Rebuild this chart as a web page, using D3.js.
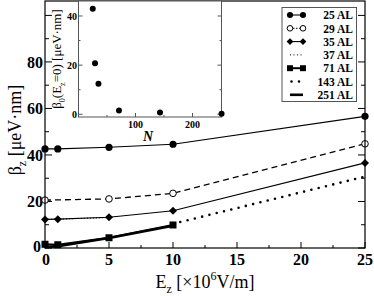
<!DOCTYPE html>
<html><head><meta charset="utf-8">
<script src="https://cdn.jsdelivr.net/npm/d3@7"></script>
<style>body{margin:0;background:#fff}svg{display:block}</style>
</head><body><svg id="c" width="374" height="296" font-family="'Liberation Serif','DejaVu Serif','Times New Roman',serif"></svg>
<script>
// ---- data ----
const fieldTicks = [0, 5, 10, 15, 20, 25];
const betaTicks = [0, 20, 40, 60, 80];
const series25 = {name: "25 AL", E: [0, 1, 5, 10, 25], v: [42.6, 42.6, 43.3, 44.6, 56.6]};
const series29 = {name: "29 AL", E: [0, 5, 10, 25], v: [20.6, 21.1, 23.5, 44.8]};
const series35 = {name: "35 AL", E: [0, 1, 5, 10, 25], v: [12.3, 12.4, 13.2, 16.0, 36.6]};
const series37 = {name: "37 AL", E: [0, 1, 5], v: [12.3, 12.4, 13.1]};
const series71 = {name: "71 AL", E: [0, 1, 5, 10], v: [1.6, 1.4, 4.4, 9.9]};
const series143 = {name: "143 AL", E: [10, 25], v: [10.4, 30.7]};
const series251 = {name: "251 AL", E: [0, 1, 5, 10], v: [0.3, 0.8, 4.3, 9.6]};
const insetN = [25, 29, 35, 71, 143, 251];
const insetBeta0 = [42.9, 20.8, 12.4, 1.5, 0.7, 0.2];
const insetXTicks = [100, 200];
const insetYTicks = [0, 20, 40];

const svg = d3.select("#c");
const L = 45, R = 365, T = 1, B = 248;
const x = d3.scaleLinear().domain([0, 25]).range([L, R]);
const y = d3.scaleLinear().domain([0, 106.2]).range([B, T]);

// ticks (inward)
const gAx = svg.append("g").attr("stroke", "#000").attr("stroke-width", 1);
d3.range(0, 25.01, 2.5).forEach(v => {
  const major = Math.abs(v % 5) < 1e-6;
  gAx.append("line").attr("x1", x(v)).attr("x2", x(v)).attr("y1", B).attr("y2", B - (major ? 6 : 3));
});
d3.range(0, 106, 10).forEach(v => {
  const major = v % 20 === 0;
  const len = major ? 7 : 4;
  gAx.append("line").attr("x1", L).attr("x2", L + len).attr("y1", y(v)).attr("y2", y(v));
  gAx.append("line").attr("x1", R).attr("x2", R - len).attr("y1", y(v)).attr("y2", y(v));
});

// tick labels
svg.append("g").selectAll("text").data(fieldTicks).join("text")
  .attr("x", d => x(d) + (d === 0 ? 1 : 0)).attr("y", 265).attr("text-anchor", "middle")
  .attr("font-size", 16).attr("font-weight", "bold").text(d => d);
svg.append("g").selectAll("text").data(betaTicks).join("text")
  .attr("x", d => d === 0 ? 41 : 43).attr("y", d => y(d) + (d === 0 ? 4 : 6)).attr("text-anchor", "end")
  .attr("font-size", 16).attr("font-weight", "bold").text(d => d);

// axis titles
const xt = svg.append("text").attr("x", 205).attr("y", 288).attr("text-anchor", "middle").attr("font-size", 18);
xt.append("tspan").text("E");
xt.append("tspan").attr("font-size", 12).attr("dy", 5).text("z");
xt.append("tspan").attr("dy", -5).text(" [×10");
xt.append("tspan").attr("font-size", 12).attr("dy", -8).text("6");
xt.append("tspan").attr("dy", 8).text("V/m]");

const yt = svg.append("text").attr("transform", "translate(21,130) rotate(-90)").attr("text-anchor", "middle").attr("font-size", 18);
yt.append("tspan").text("β");
yt.append("tspan").attr("font-size", 12).attr("dy", 5).text("z");
yt.append("tspan").attr("dy", -5).text(" [μeV·nm]");

// series
const line = d3.line().x(d => x(d[0])).y(d => y(d[1]));
function pts(s) { return s.E.map((e, i) => [e, s.v[i]]); }
const styles = [
  {s: series143, w: 2.6, dash: "0,7.5", cap: "round"},
  {s: series37, w: 1, dash: "1,2", cap: "butt"},
  {s: series25, w: 1.1},
  {s: series29, w: 1.3, dash: "6,4"},
  {s: series35, w: 1.1},
  {s: series251, w: 2.6},
  {s: series71, w: 2.2}
];
styles.forEach(st => {
  svg.append("path").attr("d", line(pts(st.s))).attr("fill", "none").attr("stroke", "#000")
    .attr("stroke-width", st.w).attr("stroke-dasharray", st.dash || null).attr("stroke-linecap", st.cap || "butt");
});

function marker(g, type, cx, cy, sc) {
  sc = sc || 1;
  if (type === "circle") g.append("circle").attr("cx", cx).attr("cy", cy).attr("r", 3.6 * sc).attr("fill", "#000");
  else if (type === "open") g.append("circle").attr("cx", cx).attr("cy", cy).attr("r", 3.3 * sc).attr("fill", "#fff").attr("stroke", "#000").attr("stroke-width", 1);
  else if (type === "diamond") { const r = 4 * sc; g.append("path").attr("d", `M${cx},${cy-r}L${cx+r},${cy}L${cx},${cy+r}L${cx-r},${cy}Z`).attr("fill", "#000"); }
  else if (type === "square") { const h = 3.5 * sc; g.append("rect").attr("x", cx - h).attr("y", cy - h).attr("width", 2 * h).attr("height", 2 * h).attr("fill", "#000"); }
}
const gm = svg.append("g");
[[series25, "circle"], [series29, "open"], [series35, "diamond"], [series71, "square"]].forEach(([s, t]) => {
  pts(s).forEach(p => marker(gm, t, x(p[0]), y(p[1])));
});

// frame
svg.append("rect").attr("x", L).attr("y", T).attr("width", R - L).attr("height", B - T)
  .attr("fill", "none").attr("stroke", "#000").attr("stroke-width", 1.2);

// ---- inset ----
const iL = 78.5, iR = 221.5, iT = 1, iB = 117;
const ix = d3.scaleLinear().domain([0, 250]).range([iL, iR - 0.5]);
const iy = d3.scaleLinear().domain([-1.1, 46.1]).range([iB, iT]);
const gi = svg.append("g");
gi.append("rect").attr("x", iL).attr("y", iT).attr("width", iR - iL).attr("height", iB - iT)
  .attr("fill", "#fff").attr("stroke", "#555").attr("stroke-width", 1);
[50, 100, 150, 200].forEach(v => {
  const len = v % 100 === 0 ? 4 : 2;
  gi.append("line").attr("x1", ix(v)).attr("x2", ix(v)).attr("y1", iB).attr("y2", iB - len).attr("stroke", "#555");
});
[0, 10, 20, 30, 40].forEach(v => {
  const len = v % 20 === 0 ? 4 : 2;
  gi.append("line").attr("x1", iL).attr("x2", iL + len).attr("y1", iy(v)).attr("y2", iy(v)).attr("stroke", "#555");
  gi.append("line").attr("x1", iR).attr("x2", iR - len).attr("y1", iy(v)).attr("y2", iy(v)).attr("stroke", "#555");
});
gi.selectAll("text.xl").data(insetXTicks).join("text").attr("class", "xl")
  .attr("x", d => ix(d)).attr("y", 128).attr("text-anchor", "middle")
  .attr("font-size", 10).attr("font-weight", "bold").text(d => d);
gi.selectAll("text.yl").data(insetYTicks).join("text").attr("class", "yl")
  .attr("x", 77).attr("y", d => iy(d) + 4).attr("text-anchor", "end")
  .attr("font-size", 10).attr("font-weight", "bold").text(d => d);
gi.append("text").attr("x", 148).attr("y", 141).attr("text-anchor", "middle")
  .attr("font-size", 14).attr("font-style", "italic").attr("font-weight", "bold").text("N");
const iyt = gi.append("text").attr("transform", "translate(61,59) rotate(-90)").attr("text-anchor", "middle").attr("font-size", 13);
iyt.append("tspan").text("β");
iyt.append("tspan").attr("font-size", 8).attr("dy", 4).text("0");
iyt.append("tspan").attr("dy", -4).text("(E");
iyt.append("tspan").attr("font-size", 8).attr("dy", 4).text("z");
iyt.append("tspan").attr("dy", -4).text("=0) [μeV·nm]");
insetN.forEach((n, i) => {
  gi.append("circle").attr("cx", ix(n)).attr("cy", iy(insetBeta0[i])).attr("r", 3).attr("fill", "#000");
});

// ---- legend ----
const lg = svg.append("g");
lg.append("rect").attr("x", 282).attr("y", 7.5).attr("width", 74.5).attr("height", 94)
  .attr("fill", "#fff").attr("stroke", "#555").attr("stroke-width", 1);
const legendItems = [
  {s: series25, m: "circle", w: 1.1},
  {s: series29, m: "open", w: 1, dash: "1.5,1.5"},
  {s: series35, m: "diamond", w: 1.1},
  {s: series37, w: 1, dash: "1,2.5"},
  {s: series71, m: "square", w: 2},
  {s: series143, w: 2.6, dash: "0,7.5", cap: "round"},
  {s: series251, w: 2.6}
];
legendItems.forEach((it, i) => {
  const cy = 15 + i * 13.3;
  const x1 = 290, x2 = 303;
  if (it.cap === "round") {
    lg.append("line").attr("x1", x1 + 1.5).attr("x2", x2).attr("y1", cy).attr("y2", cy).attr("stroke", "#000")
      .attr("stroke-width", it.w).attr("stroke-dasharray", it.dash).attr("stroke-linecap", "round");
  } else {
    lg.append("line").attr("x1", x1).attr("x2", x2).attr("y1", cy).attr("y2", cy).attr("stroke", "#000")
      .attr("stroke-width", it.w).attr("stroke-dasharray", it.dash || null);
  }
  if (it.m) { marker(lg, it.m, x1, cy, 0.85); marker(lg, it.m, x2, cy, 0.85); }
  lg.append("text").attr("x", 353).attr("y", cy + 4.2).attr("text-anchor", "end")
    .attr("font-size", 11.5).attr("font-weight", "bold").text(it.s.name);
});
</script></body></html>
